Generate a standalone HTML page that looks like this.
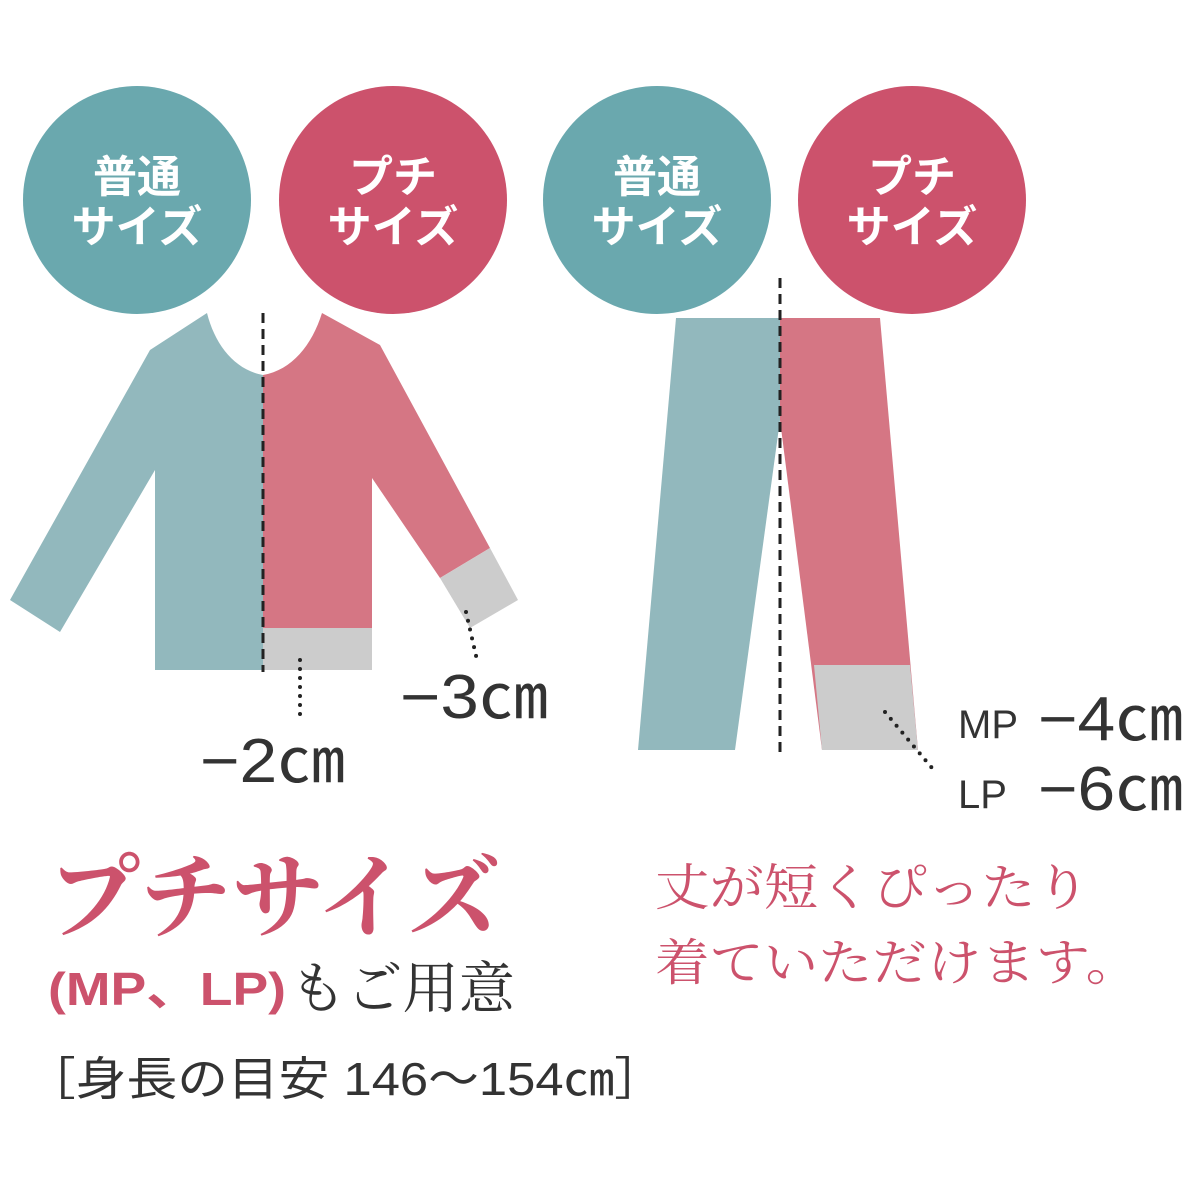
<!DOCTYPE html>
<html><head><meta charset="utf-8"><style>
html,body{margin:0;padding:0;background:#fff}
svg{display:block}
</style></head><body>
<svg width="1200" height="1200" viewBox="0 0 1200 1200" xmlns="http://www.w3.org/2000/svg">
<g font-family="Liberation Sans, Noto Sans CJK JP, sans-serif" font-weight="bold" fill="#fff" font-size="44" text-anchor="middle">
<circle cx="137" cy="200" r="114" fill="#6aa8ae"/>
<circle cx="393" cy="200" r="114" fill="#cc526c"/>
<circle cx="657" cy="200" r="114" fill="#6aa8ae"/>
<circle cx="912" cy="200" r="114" fill="#cc526c"/>
<text x="137" y="192">普通</text><text x="137" y="242">サイズ</text>
<text x="393" y="192">プチ</text><text x="393" y="242">サイズ</text>
<text x="657" y="192">普通</text><text x="657" y="242">サイズ</text>
<text x="912" y="192">プチ</text><text x="912" y="242">サイズ</text>
</g>
<path d="M207,313 C215,345 235,370 263,375 L263,670 L155,670 L155,470 L60,632 L10,600 L150,350 Z" fill="#92b8bd"/>
<path d="M322,313 C312,345 292,370 263,375 L263,628 L372,628 L372,478 L440,578 L490,548 L380,345 Z" fill="#d57684"/>
<rect x="263" y="628" width="109" height="42" fill="#cccccc"/>
<path d="M440,578 L490,548 L518,600 L470,628 Z" fill="#cccccc"/>
<line x1="263" y1="313" x2="263" y2="672" stroke="#222" stroke-width="3" stroke-dasharray="10,6"/>
<path d="M676,318 L780,318 L780,420 L735,750 L638,750 Z" fill="#92b8bd"/>
<path d="M780,318 L880,318 L918,750 L822,750 L780,420 Z" fill="#d57684"/>
<path d="M814,665 L910,665 L918,750 L822,750 Z" fill="#cccccc"/>
<line x1="780" y1="278" x2="780" y2="755" stroke="#222" stroke-width="3" stroke-dasharray="10,6"/>
<g stroke="#222" stroke-width="4" stroke-linecap="round" stroke-dasharray="0,9">
<line x1="300" y1="660" x2="300" y2="718"/>
<line x1="466" y1="612" x2="477" y2="660"/>
<line x1="885" y1="712" x2="932" y2="768"/>
</g>
<g font-family="Liberation Sans, Noto Sans CJK JP, sans-serif" fill="#333">
<text x="200" y="782" font-size="62" textLength="145" lengthAdjust="spacingAndGlyphs">−2㎝</text>
<text x="400" y="718" font-size="62" textLength="148" lengthAdjust="spacingAndGlyphs">−3㎝</text>
<text x="958" y="738" font-size="40">MP</text><text x="1038" y="740" font-size="62" textLength="145" lengthAdjust="spacingAndGlyphs">−4㎝</text>
<text x="958" y="808" font-size="40">LP</text><text x="1038" y="810" font-size="62" textLength="145" lengthAdjust="spacingAndGlyphs">−6㎝</text>
</g>
<g font-family="Liberation Serif, Noto Serif CJK SC, serif">
<text x="48" y="930" font-size="92" fill="#cc526c" font-weight="bold" textLength="452" lengthAdjust="spacingAndGlyphs">プチサイズ</text>
<text x="48" y="1005" font-size="46" fill="#cc526c" font-weight="bold" font-family="Liberation Sans, Noto Sans CJK JP, sans-serif" textLength="238" lengthAdjust="spacingAndGlyphs">(MP、LP)</text>
<text x="290" y="1008" font-size="56" fill="#333" textLength="225" lengthAdjust="spacingAndGlyphs">もご用意</text>
<text x="655" y="905" font-size="50" fill="#cc526c" textLength="435" lengthAdjust="spacingAndGlyphs">丈が短くぴったり</text>
<text x="655" y="980" font-size="50" fill="#cc526c" textLength="485" lengthAdjust="spacingAndGlyphs">着ていただけます。</text>
</g>
<text x="25" y="1095" font-size="46" fill="#333" font-family="Liberation Sans, Noto Sans CJK JP, sans-serif" textLength="640" lengthAdjust="spacingAndGlyphs">［身長の目安 146〜154㎝］</text>
</svg>
</body></html>
